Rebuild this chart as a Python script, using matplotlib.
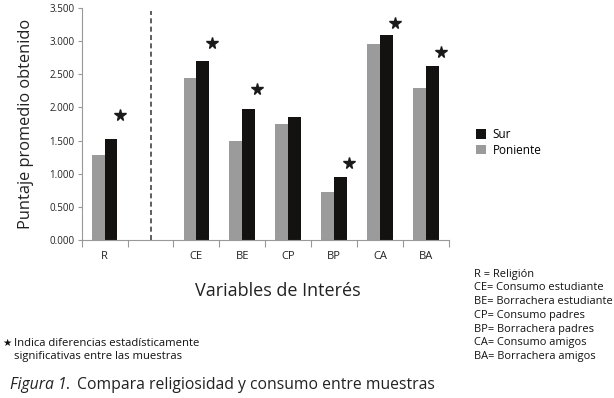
import matplotlib
matplotlib.use("Agg")
import matplotlib.pyplot as plt
import numpy as np

plt.rcParams['font.family'] = ['Open Sans', 'DejaVu Sans']

categories = ['R', '', 'CE', 'BE', 'CP', 'BP', 'CA', 'BA']
poniente = [1.28, None, 2.44, 1.49, 1.75, 0.72, 2.95, 2.30]
sur = [1.52, None, 2.70, 1.98, 1.85, 0.95, 3.09, 2.63]
stars = [1.89, None, 2.97, 2.28, None, 1.16, 3.27, 2.84]
yticks = [0.0, 0.5, 1.0, 1.5, 2.0, 2.5, 3.0, 3.5]
ytick_labels = ['0.000', '0.500', '1.000', '1.500', '2.000', '2.500', '3.000', '3.500']
abbrev = ['R = Religión', 'CE= Consumo estudiante', 'BE= Borrachera estudiante',
          'CP= Consumo padres', 'BP= Borrachera padres', 'CA= Consumo amigos',
          'BA= Borrachera amigos']

fig = plt.figure(figsize=(6.14, 3.98), dpi=100)
ax = fig.add_axes([0.133, 0.397, 0.598, 0.583])

grey = '#9b9b9b'
black = '#141210'
w = 0.28
x = np.arange(len(categories))
for i in range(len(categories)):
    if poniente[i] is not None:
        ax.bar(x[i] - w / 2, poniente[i], w, color=grey, label='Poniente' if i == 0 else None)
    if sur[i] is not None:
        ax.bar(x[i] + w / 2, sur[i], w, color=black, label='Sur' if i == 0 else None)
    if stars[i] is not None:
        ax.plot(x[i] + 0.33, stars[i], marker='*', color='#1a1a1a', markersize=8.5, linestyle='none')

ax.axvline(1, ymin=0, ymax=0.985, color='#444444', linestyle=(0, (3, 2)), linewidth=1.2)

ax.set_xlim(-0.5, len(categories) - 0.5)
ax.set_ylim(0, 3.5)
ax.set_yticks(yticks)
ax.set_yticklabels(ytick_labels, fontsize=7, color='#222222')
ax.set_xticks(np.arange(len(categories) + 1) - 0.5)
ax.set_xticklabels([])
ax.set_xticks(x, minor=True)
ax.set_xticklabels(categories, minor=True, fontsize=8, color='#222222')
ax.tick_params(axis='x', which='major', length=5, color='#999999', direction='out')
ax.tick_params(axis='x', which='minor', length=0, pad=8)
ax.tick_params(axis='y', length=3, color='#999999', pad=2)
for s in ['top', 'right']:
    ax.spines[s].set_visible(False)
for s in ['left', 'bottom']:
    ax.spines[s].set_color('#999999')

ax.set_ylabel('Puntaje promedio obtenido', fontsize=11.8, color='#222222')
ax.yaxis.set_label_coords(-0.13, 0.5)
ax.set_xlabel('Variables de Interés', fontsize=13, color='#222222')
ax.xaxis.set_label_coords(0.533, -0.18)

handles, labels = ax.get_legend_handles_labels()
order = [labels.index('Sur'), labels.index('Poniente')]
fig.legend([handles[k] for k in order], [labels[k] for k in order],
           loc='upper left', bbox_to_anchor=(0.768, 0.69), frameon=False,
           fontsize=8.5, handlelength=0.8, handleheight=0.8, handletextpad=0.6,
           labelspacing=0.25, borderaxespad=0)

for j, t in enumerate(abbrev):
    fig.text(0.772, 1 - (274 + j * 13.8) / 398, t, fontsize=7.9, color='#111111', va='center')

fig.text(0.003, 1 - 343 / 398, '★', fontsize=7.5, color='#111111', va='center')
fig.text(0.023, 1 - 343 / 398, 'Indica diferencias estadísticamente', fontsize=8.1, color='#111111', va='center')
fig.text(0.023, 1 - 357 / 398, 'significativas entre las muestras', fontsize=8.1, color='#111111', va='center')

fig.text(0.016, 1 - 385 / 398, 'Figura 1.', fontsize=11.3, style='italic', color='#222222', va='center')
fig.text(0.126, 1 - 385 / 398, 'Compara religiosidad y consumo entre muestras', fontsize=11.3, color='#222222', va='center')

fig.savefig('out.png', dpi=100)
